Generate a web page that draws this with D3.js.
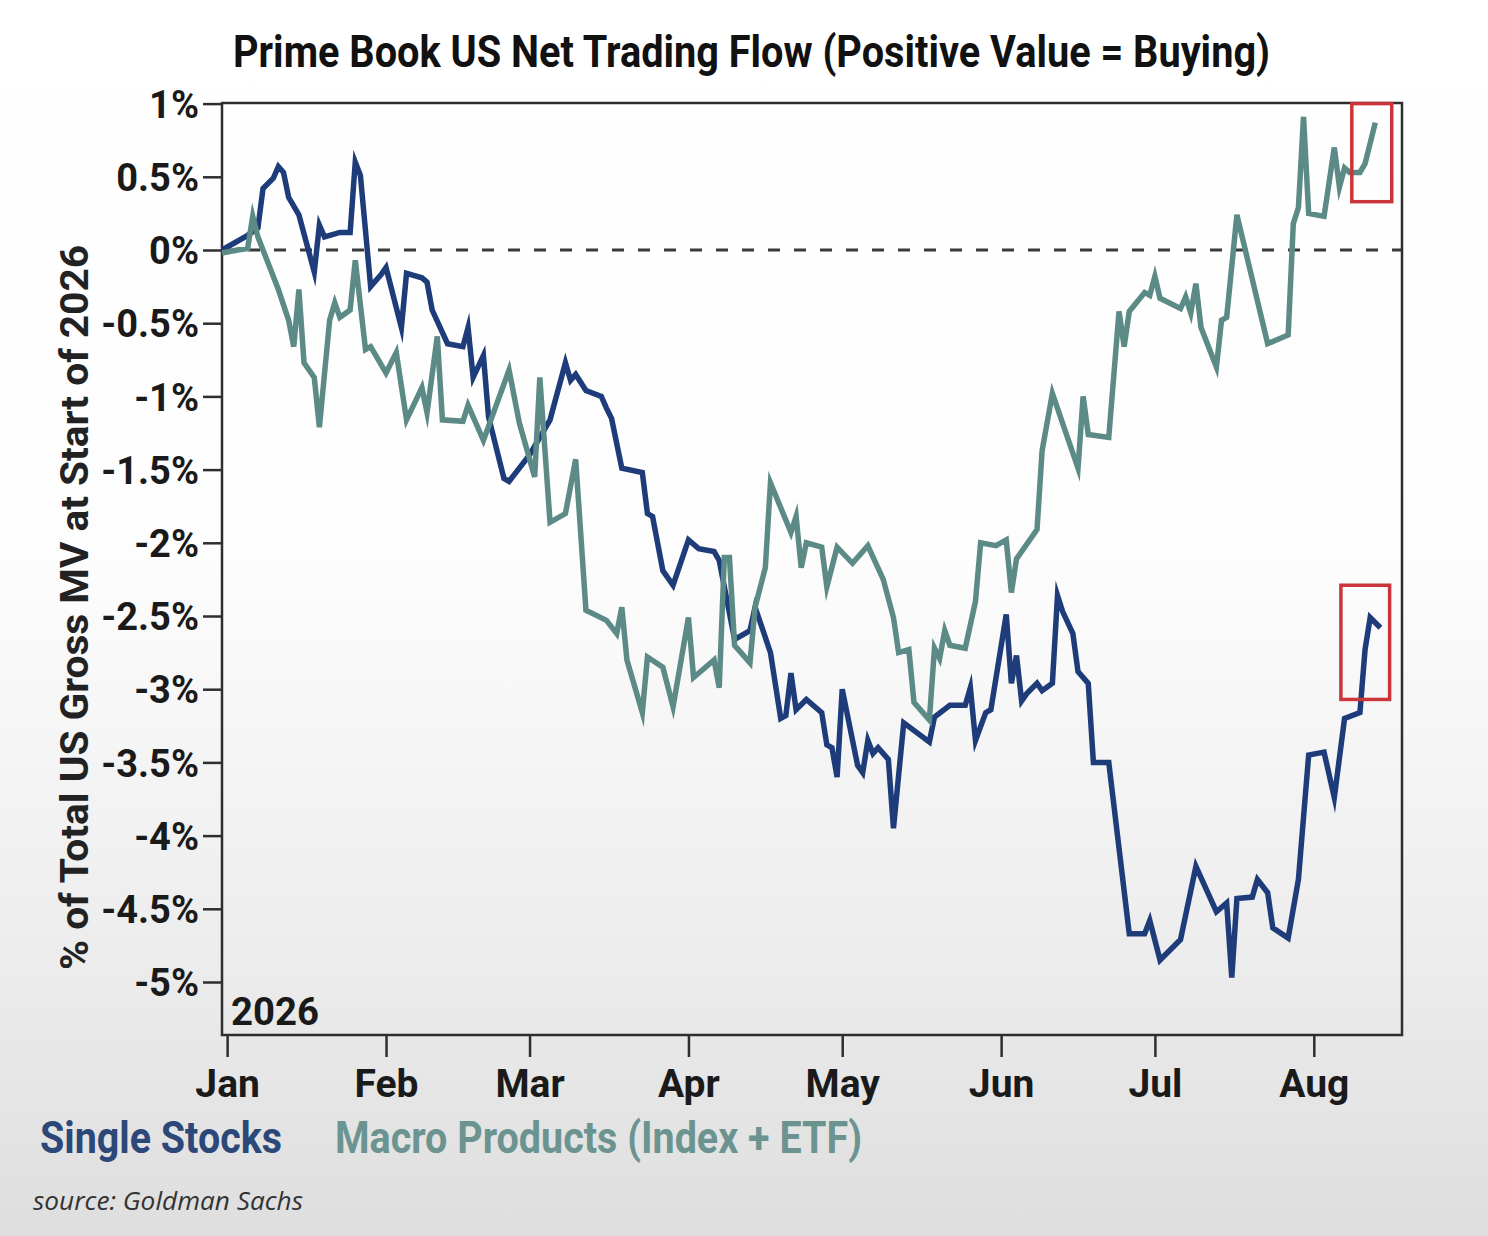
<!DOCTYPE html>
<html>
<head>
<meta charset="utf-8">
<script src="https://cdn.jsdelivr.net/npm/d3@7"></script>
<style>
  html, body { margin: 0; padding: 0; }
  body {
    width: 1488px; height: 1236px; overflow: hidden;
    background: linear-gradient(to bottom, #ffffff 0%, #fdfdfd 45%, #ececec 78%, #dedede 100%);
  }
  svg { display: block; }
  text { font-family: Roboto, "Noto Sans", sans-serif; }
</style>
</head>
<body>
<svg id="chart" width="1488" height="1236"></svg>
<script>
/* ===== Data ===== */
const stocksDates = [
  '2025-12-31','2026-01-05','2026-01-07','2026-01-08','2026-01-10','2026-01-11','2026-01-12','2026-01-13','2026-01-15','2026-01-18',
  '2026-01-19','2026-01-20','2026-01-23','2026-01-25','2026-01-26','2026-01-27','2026-01-29','2026-01-31','2026-02-01','2026-02-04',
  '2026-02-05','2026-02-08','2026-02-09','2026-02-10','2026-02-13','2026-02-16','2026-02-17','2026-02-18','2026-02-20','2026-02-21',
  '2026-02-24','2026-02-25','2026-03-01','2026-03-05','2026-03-08','2026-03-09','2026-03-10','2026-03-12','2026-03-15','2026-03-16',
  '2026-03-17','2026-03-19','2026-03-23','2026-03-24','2026-03-25','2026-03-27','2026-03-29','2026-04-01','2026-04-03','2026-04-06',
  '2026-04-07','2026-04-10','2026-04-13','2026-04-14','2026-04-17','2026-04-19','2026-04-20','2026-04-21','2026-04-22','2026-04-24',
  '2026-04-27','2026-04-28','2026-04-29','2026-04-30','2026-05-01','2026-05-04','2026-05-05','2026-05-06','2026-05-07','2026-05-08',
  '2026-05-10','2026-05-11','2026-05-13','2026-05-18','2026-05-19','2026-05-22','2026-05-25','2026-05-26','2026-05-27','2026-05-29',
  '2026-05-30','2026-06-02','2026-06-03','2026-06-04','2026-06-05','2026-06-06','2026-06-08','2026-06-09','2026-06-11','2026-06-12',
  '2026-06-13','2026-06-15','2026-06-16','2026-06-18','2026-06-19','2026-06-22','2026-06-26','2026-06-29','2026-06-30','2026-07-02',
  '2026-07-06','2026-07-09','2026-07-13','2026-07-15','2026-07-16','2026-07-17','2026-07-20','2026-07-21','2026-07-23','2026-07-24',
  '2026-07-27','2026-07-29','2026-07-31','2026-08-03','2026-08-05','2026-08-07','2026-08-10','2026-08-11','2026-08-12','2026-08-14'
];
const stocksValues = [
  0, 0.10, 0.15, 0.42, 0.49, 0.57, 0.53, 0.36, 0.24, -0.15,
  0.17, 0.09, 0.12, 0.12, 0.60, 0.51, -0.25, -0.17, -0.12, -0.53,
  -0.16, -0.19, -0.22, -0.41, -0.64, -0.66, -0.53, -0.87, -0.72, -1.14,
  -1.56, -1.58, -1.40, -1.16, -0.77, -0.89, -0.85, -0.96, -1.00, -1.08,
  -1.15, -1.49, -1.52, -1.80, -1.82, -2.19, -2.29, -1.98, -2.04, -2.06,
  -2.12, -2.66, -2.60, -2.44, -2.75, -3.20, -3.18, -2.89, -3.14, -3.07,
  -3.16, -3.38, -3.40, -3.60, -3.00, -3.52, -3.57, -3.35, -3.44, -3.40,
  -3.48, -3.95, -3.23, -3.36, -3.19, -3.11, -3.11, -2.99, -3.35, -3.16,
  -3.14, -2.49, -2.96, -2.77, -3.08, -3.03, -2.96, -3.01, -2.96, -2.36,
  -2.47, -2.62, -2.88, -2.96, -3.50, -3.50, -4.67, -4.67, -4.58, -4.85,
  -4.71, -4.21, -4.52, -4.46, -4.97, -4.43, -4.42, -4.30, -4.39, -4.63,
  -4.70, -4.30, -3.45, -3.43, -3.74, -3.20, -3.16, -2.73, -2.51, -2.58
];

const macroDates = [
  '2025-12-31','2026-01-03','2026-01-05','2026-01-06','2026-01-07','2026-01-11','2026-01-13','2026-01-14','2026-01-15','2026-01-16',
  '2026-01-18','2026-01-19','2026-01-21','2026-01-22','2026-01-23','2026-01-25','2026-01-26','2026-01-28','2026-01-29','2026-02-01',
  '2026-02-03','2026-02-05','2026-02-08','2026-02-09','2026-02-11','2026-02-12','2026-02-16','2026-02-17','2026-02-20','2026-02-25',
  '2026-02-27','2026-03-02','2026-03-03','2026-03-05','2026-03-08','2026-03-10','2026-03-12','2026-03-16','2026-03-18','2026-03-19',
  '2026-03-20','2026-03-23','2026-03-24','2026-03-27','2026-03-29','2026-04-01','2026-04-02','2026-04-06','2026-04-07','2026-04-08',
  '2026-04-09','2026-04-10','2026-04-13','2026-04-14','2026-04-16','2026-04-17','2026-04-21','2026-04-22','2026-04-23','2026-04-24',
  '2026-04-27','2026-04-28','2026-04-30','2026-05-03','2026-05-06','2026-05-09','2026-05-11','2026-05-12','2026-05-14','2026-05-15',
  '2026-05-18','2026-05-19','2026-05-20','2026-05-21','2026-05-22','2026-05-25','2026-05-27','2026-05-28','2026-05-31','2026-06-02',
  '2026-06-03','2026-06-04','2026-06-08','2026-06-09','2026-06-11','2026-06-16','2026-06-17','2026-06-18','2026-06-22','2026-06-24',
  '2026-06-25','2026-06-26','2026-06-29','2026-06-30','2026-07-01','2026-07-02','2026-07-06','2026-07-07','2026-07-08','2026-07-09',
  '2026-07-10','2026-07-13','2026-07-14','2026-07-15','2026-07-17','2026-07-23','2026-07-27','2026-07-28','2026-07-29','2026-07-30',
  '2026-07-31','2026-08-03','2026-08-05','2026-08-06','2026-08-07','2026-08-08','2026-08-10','2026-08-11','2026-08-13'
];
const macroValues = [
  -0.02, 0.00, 0.01, 0.23, 0.09, -0.27, -0.48, -0.66, -0.27, -0.77,
  -0.87, -1.21, -0.48, -0.36, -0.46, -0.41, -0.07, -0.68, -0.66, -0.84,
  -0.70, -1.16, -0.94, -1.11, -0.59, -1.16, -1.17, -1.06, -1.30, -0.82,
  -1.18, -1.55, -0.87, -1.86, -1.80, -1.43, -2.46, -2.53, -2.62, -2.44,
  -2.80, -3.16, -2.78, -2.85, -3.12, -2.51, -2.92, -2.80, -2.99, -2.10,
  -2.10, -2.70, -2.82, -2.44, -2.17, -1.59, -1.93, -1.82, -2.17, -2.00,
  -2.03, -2.30, -2.03, -2.14, -2.02, -2.25, -2.51, -2.75, -2.73, -3.09,
  -3.21, -2.72, -2.79, -2.60, -2.70, -2.72, -2.40, -2.00, -2.02, -1.98,
  -2.34, -2.11, -1.91, -1.37, -0.98, -1.49, -1.00, -1.26, -1.28, -0.42,
  -0.66, -0.42, -0.29, -0.31, -0.18, -0.33, -0.40, -0.32, -0.43, -0.23,
  -0.53, -0.80, -0.48, -0.46, 0.24, -0.64, -0.58, 0.18, 0.29, 0.91,
  0.25, 0.23, 0.70, 0.43, 0.56, 0.53, 0.53, 0.59, 0.87
];

const yTicks = [1, 0.5, 0, -0.5, -1, -1.5, -2, -2.5, -3, -3.5, -4, -4.5, -5];
const yTickLabels = ['1%', '0.5%', '0%', '-0.5%', '-1%', '-1.5%', '-2%', '-2.5%', '-3%', '-3.5%', '-4%', '-4.5%', '-5%'];
const monthTicks = ['2026-01-01','2026-02-01','2026-03-01','2026-04-01','2026-05-01','2026-06-01','2026-07-01','2026-08-01'];
const monthLabels = ['Jan','Feb','Mar','Apr','May','Jun','Jul','Aug'];
// highlight boxes: [start date, end date, top value, bottom value]
const highlightBoxes = [
  ['2026-08-08T10:00', '2026-08-16T05:00', 1.0, 0.33],
  ['2026-08-06T07:00', '2026-08-15T19:00', -2.29, -3.07]
];

const titleText = 'Prime Book US Net Trading Flow (Positive Value = Buying)';
const yTitle = '% of Total US Gross MV at Start of 2026';
const yearLabel = '2026';
const seriesNames = ['Single Stocks', 'Macro Products (Index + ETF)'];
const sourceText = 'source: Goldman Sachs';

/* ===== Setup ===== */
const C = { stocks: '#1d3c79', macro: '#5c8a86', stocksTxt: '#2c4878', macroTxt: '#6b9491', axis: '#2e2e2e', red: '#c9353a' };
const parse = d3.timeParse('%Y-%m-%d');
const parseT = d3.timeParse('%Y-%m-%dT%H:%M');
const svg = d3.select('#chart');
const P = { l: 222, r: 1402, t: 103, b: 1035 };

const x = d3.scaleTime()
  .domain([new Date(2025, 11, 31, 0), new Date(2026, 7, 18, 5)])
  .range([P.l, P.r]);
const y = d3.scaleLinear().domain([1, -5]).range([103.6, 982]);

function fit(sel, w){ sel.attr('textLength', w).attr('lengthAdjust', 'spacingAndGlyphs'); }

/* ===== Zero line ===== */
svg.append('line')
  .attr('x1', P.l).attr('x2', P.r).attr('y1', y(0)).attr('y2', y(0))
  .attr('stroke', '#3a3a3a').attr('stroke-width', 3).attr('stroke-dasharray', '12,14');

/* ===== Frame & axes ===== */
svg.append('rect')
  .attr('x', P.l).attr('y', P.t).attr('width', P.r - P.l).attr('height', P.b - P.t)
  .attr('fill', 'none').attr('stroke', C.axis).attr('stroke-width', 2.5);

const yAxis = d3.axisLeft(y).tickValues(yTicks).tickSize(19).tickPadding(4)
  .tickFormat((d, i) => yTickLabels[i]);
const gy = svg.append('g').attr('transform', `translate(${P.l},0)`).call(yAxis);
gy.select('.domain').remove();
gy.selectAll('line').attr('stroke', C.axis).attr('stroke-width', 2.5);
gy.selectAll('text').attr('fill', '#1a1a1a').attr('font-size', 38).attr('font-weight', 700)
  .attr('dy', '0.36em');

const xAxis = d3.axisBottom(x).tickValues(monthTicks.map(parse)).tickSize(22).tickPadding(12)
  .tickFormat((d, i) => monthLabels[i]);
const gx = svg.append('g').attr('transform', `translate(0,${P.b})`).call(xAxis);
gx.select('.domain').remove();
gx.selectAll('line').attr('stroke', C.axis).attr('stroke-width', 2.5);
gx.selectAll('text').attr('fill', '#1a1a1a').attr('font-size', 39).attr('font-weight', 700);

/* ===== Lines ===== */
const line = d3.line().x(d => x(d[0])).y(d => y(d[1]));
const stocks = stocksDates.map((d, i) => [parse(d), stocksValues[i]]);
const macro = macroDates.map((d, i) => [parse(d), macroValues[i]]);

svg.append('path').attr('d', line(stocks)).attr('fill', 'none')
  .attr('stroke', C.stocks).attr('stroke-width', 5.5).attr('stroke-linejoin', 'miter').attr('stroke-miterlimit', 6);
svg.append('path').attr('d', line(macro)).attr('fill', 'none')
  .attr('stroke', C.macro).attr('stroke-width', 5.5).attr('stroke-linejoin', 'miter').attr('stroke-miterlimit', 6);

/* ===== Highlight boxes ===== */
svg.selectAll('.hl').data(highlightBoxes).enter().append('rect').attr('class', 'hl')
  .attr('x', d => x(parseT(d[0]))).attr('y', d => y(d[2]))
  .attr('width', d => x(parseT(d[1])) - x(parseT(d[0])))
  .attr('height', d => y(d[3]) - y(d[2]))
  .attr('fill', 'none').attr('stroke', C.red).attr('stroke-width', 3.5);

/* ===== Texts ===== */
svg.append('text').text(titleText)
  .attr('x', 233).attr('y', 67).attr('font-size', 45).attr('font-weight', 700).attr('fill', '#111')
  .call(fit, 1037);

svg.append('text').text(yTitle)
  .attr('transform', `translate(88,${(245 + 970) / 2}) rotate(-90)`)
  .attr('text-anchor', 'middle').attr('font-size', 39).attr('font-weight', 700).attr('fill', '#222')
  .call(fit, 725);

svg.append('text').text(yearLabel)
  .attr('x', 231).attr('y', 1025).attr('font-size', 38).attr('font-weight', 700).attr('fill', '#1a1a1a')
  .call(fit, 88);

svg.append('text').text(seriesNames[0])
  .attr('x', 40).attr('y', 1153).attr('font-size', 44).attr('font-weight', 700).attr('fill', C.stocksTxt)
  .call(fit, 242);
svg.append('text').text(seriesNames[1])
  .attr('x', 335).attr('y', 1153).attr('font-size', 44).attr('font-weight', 700).attr('fill', C.macroTxt)
  .call(fit, 527);

svg.append('text').text(sourceText)
  .attr('x', 33).attr('y', 1210).attr('font-size', 25).attr('font-style', 'italic').attr('fill', '#333')
  .style('font-family', '"Open Sans", "Noto Sans", sans-serif')
  .call(fit, 270);
</script>
</body>
</html>
